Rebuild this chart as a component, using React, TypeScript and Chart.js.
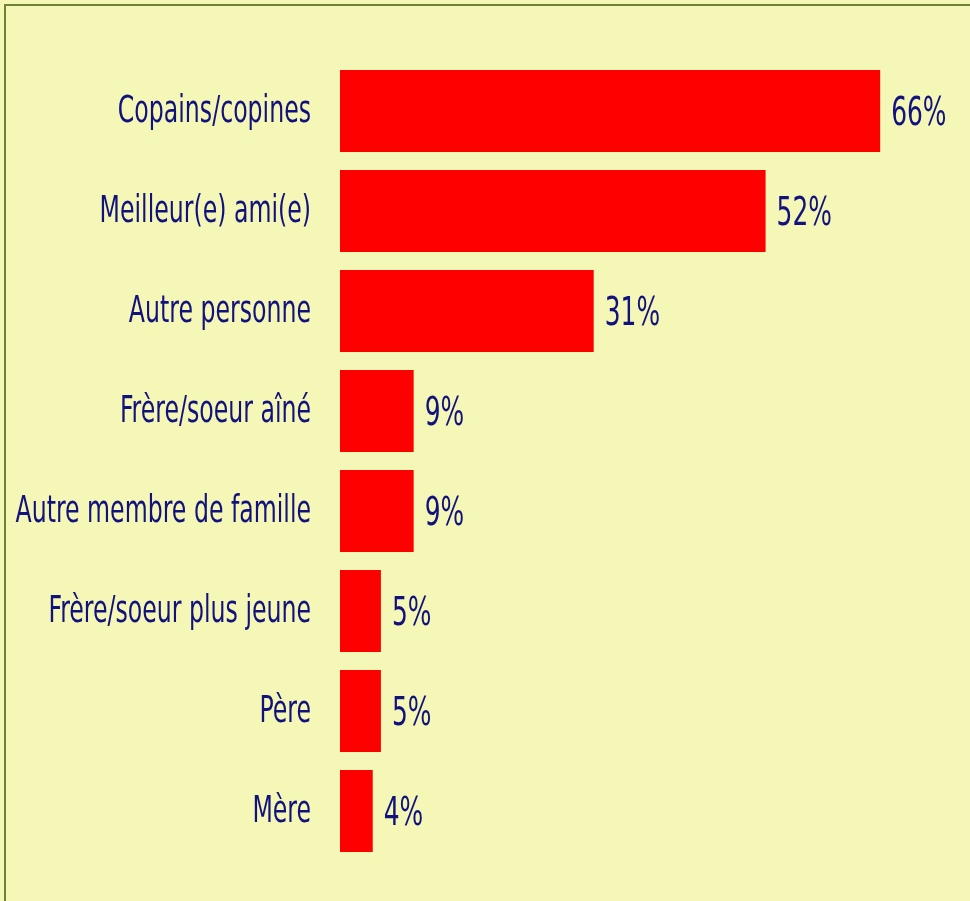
import React, { useEffect, useRef } from "react";
import { Chart, registerables } from "chart.js";

Chart.register(...registerables);

const categories = [
  "Copains/copines",
  "Meilleur(e) ami(e)",
  "Autre personne",
  "Frère/soeur aîné",
  "Autre membre de famille",
  "Frère/soeur plus jeune",
  "Père",
  "Mère",
];
const values = [66, 52, 31, 9, 9, 5, 5, 4];

const FONT = "'DejaVu Sans Condensed', 'Liberation Sans Narrow', sans-serif";
const NAVY = "#12127d";
const SQUEEZE = 0.71;

const textPlugin = {
  id: "textPlugin",
  afterDatasetsDraw(chart: any) {
    const ctx = chart.ctx;
    const yScale = chart.scales.y;
    const meta = chart.getDatasetMeta(0);
    ctx.save();
    ctx.fillStyle = NAVY;
    ctx.textBaseline = "alphabetic";
    // category labels
    ctx.font = `37px ${FONT}`;
    ctx.textAlign = "right";
    categories.forEach((c, i) => {
      const y = yScale.getPixelForValue(i);
      ctx.save();
      ctx.translate(chart.chartArea.left - 29, y + 11);
      ctx.scale(SQUEEZE, 1);
      ctx.fillText(c, 0, 0);
      ctx.restore();
    });
    // value labels
    ctx.font = `39px ${FONT}`;
    ctx.textAlign = "left";
    meta.data.forEach((bar: any, i: number) => {
      ctx.save();
      ctx.translate(bar.x + 11, bar.y + 14);
      ctx.scale(SQUEEZE, 1);
      ctx.fillText(values[i] + "%", 0, 0);
      ctx.restore();
    });
    ctx.restore();
  },
};

export default function App() {
  const ref = useRef<HTMLCanvasElement>(null);
  useEffect(() => {
    const chart = new Chart(ref.current!, {
      type: "bar",
      data: {
        labels: categories,
        datasets: [
          {
            data: values,
            backgroundColor: "#ff0000",
            borderWidth: 0,
            barPercentage: 0.82,
            categoryPercentage: 1,
          },
        ],
      },
      options: {
        indexAxis: "y",
        animation: false,
        responsive: false,
        maintainAspectRatio: false,
        layout: { padding: { top: 61, bottom: 40, left: 0, right: 8 } },
        plugins: { legend: { display: false }, tooltip: { enabled: false } },
        scales: {
          x: { display: false, min: 0, max: 76 },
          y: {
            grid: { display: false, drawTicks: false },
            border: { display: false },
            ticks: { display: false },
            afterFit(scale: any) {
              scale.width = 340;
            },
          },
        },
      },
      plugins: [textPlugin],
    });
    return () => chart.destroy();
  }, []);
  return (
    <div style={{ position: "fixed", left: 0, top: 0, width: 970, height: 901, background: "#f5f7b6", overflow: "hidden" }}>
      <div style={{ position: "absolute", left: 4, top: 4, width: 980, height: 910, borderLeft: "2px solid #6e8232", borderTop: "2px solid #6e8232", boxSizing: "border-box" }} />
      <canvas ref={ref} width={970} height={901} style={{ position: "absolute", left: 0, top: 0 }} />
    </div>
  );
}
